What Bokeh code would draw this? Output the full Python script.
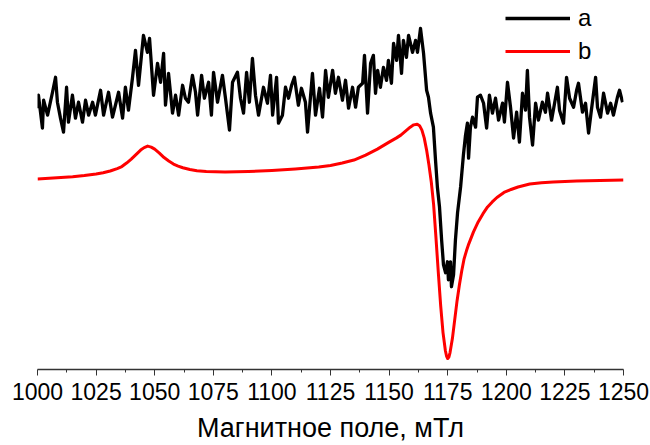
from bokeh.plotting import figure
from bokeh.models import Range1d, Legend, LegendItem, FixedTicker
from bokeh.embed import file_html
from bokeh.resources import INLINE

# Magnetic field (mT) and intensity (arb. units) for experimental spectrum "a"
field_a = [1000.0, 1000.4, 1002.1, 1002.6, 1004.3, 1006.4, 1007.7, 1008.5, 1009.8, 1011.1,
           1012.4, 1013.2, 1014.9, 1016.2, 1017.5, 1019.2, 1020.5, 1021.8, 1023.5, 1024.7,
           1026.9, 1028.2, 1030.3, 1032.0, 1034.6, 1036.3, 1037.5, 1038.8, 1040.5, 1041.8,
           1043.1, 1045.2, 1046.9, 1047.8, 1049.5, 1051.2, 1052.5, 1053.8, 1054.6, 1055.9,
           1057.6, 1058.9, 1060.2, 1061.9, 1063.1, 1064.4, 1066.1, 1067.4, 1068.3, 1070.0,
           1071.2, 1073.0, 1074.2, 1075.1, 1076.8, 1078.9, 1080.2, 1081.9, 1083.2, 1085.3,
           1086.6, 1087.9, 1089.2, 1090.4, 1091.7, 1093.0, 1094.3, 1096.4, 1098.1, 1099.4,
           1100.3, 1102.0, 1102.8, 1104.5, 1105.8, 1107.1, 1108.4, 1109.6, 1111.3, 1112.6,
           1114.3, 1115.2, 1117.3, 1118.6, 1120.3, 1121.6, 1122.9, 1124.1, 1125.9, 1127.1,
           1128.4, 1130.1, 1131.4, 1132.7, 1134.4, 1135.7, 1136.9, 1138.7, 1139.5, 1140.8,
           1142.1, 1143.3, 1144.2, 1145.1, 1146.3, 1147.6, 1148.9, 1149.7, 1151.0, 1151.9,
           1153.2, 1154.0, 1155.3, 1156.1, 1157.4, 1158.3, 1160.0, 1161.3, 1162.1, 1163.4,
           1164.7, 1166.0, 1166.8, 1167.7, 1168.9, 1169.8, 1170.6, 1171.5, 1172.4, 1173.2,
           1174.1, 1174.9, 1175.3, 1176.2, 1176.6, 1177.5, 1178.3, 1179.2, 1180.5, 1181.7,
           1182.6, 1183.4, 1183.9, 1184.7, 1185.6, 1186.9, 1187.7, 1189.0, 1190.3, 1191.6,
           1192.8, 1194.1, 1195.4, 1196.7, 1198.4, 1199.2, 1200.5, 1201.8, 1203.1, 1204.4,
           1205.6, 1206.9, 1208.2, 1209.0, 1209.9, 1211.2, 1212.5, 1213.7, 1215.4, 1216.7,
           1217.6, 1219.3, 1220.6, 1221.8, 1222.7, 1224.4, 1225.7, 1227.0, 1228.7, 1230.0,
           1230.8, 1232.5, 1233.8, 1235.1, 1236.3, 1238.1, 1238.9, 1240.2, 1241.5, 1243.2,
           1244.5, 1245.7, 1247.4, 1248.3, 1249.6]
intensity_a = [262, 275, 242, 270, 255, 278, 293, 268, 252, 238,
               283, 248, 275, 252, 268, 248, 270, 255, 268, 255,
               280, 255, 278, 253, 278, 252, 283, 260, 292, 320,
               285, 335, 318, 332, 275, 307, 288, 317, 265, 297,
               257, 275, 255, 285, 272, 268, 295, 278, 255, 295,
               272, 288, 255, 298, 268, 295, 272, 240, 288, 298,
               272, 257, 298, 268, 312, 275, 255, 283, 267, 295,
               255, 293, 247, 255, 283, 272, 285, 293, 265, 282,
               268, 238, 297, 255, 282, 253, 300, 273, 300, 277,
               293, 270, 290, 262, 283, 263, 283, 287, 315, 257,
               307, 315, 277, 300, 283, 303, 290, 310, 287, 327,
               310, 335, 297, 330, 313, 335, 318, 330, 318, 342,
               317, 280, 273, 257, 243, 210, 183, 163, 130, 105,
               97, 108, 90, 108, 83, 95, 130, 157, 183, 215,
               235, 247, 212, 243, 253, 243, 273, 275, 267, 242,
               275, 257, 272, 250, 267, 248, 288, 263, 232, 258,
               228, 277, 260, 300, 253, 225, 267, 250, 268, 258,
               277, 250, 267, 283, 260, 247, 293, 272, 263, 280,
               287, 258, 267, 237, 260, 293, 263, 253, 277, 257,
               267, 255, 273, 280, 268]

# Simulated spectrum "b"
field_b = [1000, 1005, 1010, 1015, 1020, 1025, 1028, 1031, 1034, 1036,
           1038, 1040, 1042, 1044, 1045.5, 1047, 1048.5, 1050, 1052, 1054,
           1056, 1058, 1060, 1062, 1065, 1068, 1072, 1080, 1090, 1100,
           1110, 1120, 1125, 1130, 1135, 1140, 1145, 1150, 1153, 1155,
           1157, 1159, 1160.5, 1162, 1163, 1164, 1165, 1166, 1167, 1168,
           1169, 1170, 1171, 1172, 1173, 1174, 1174.5, 1175, 1175.5, 1176,
           1177, 1178, 1179, 1180, 1181, 1182, 1183, 1184, 1185, 1186,
           1188, 1190, 1192, 1194, 1196, 1199, 1202, 1205, 1210, 1215,
           1220, 1230, 1240, 1250]
intensity_b = [191, 191.7, 192.5, 193.3, 194.5, 196, 197.3, 199, 201.5, 203.5,
               207, 211, 215.5, 220, 222.5, 224, 223, 221, 217, 212.5,
               209, 206, 204, 202.3, 200.5, 199.3, 198.5, 198, 198.5, 199.5,
               201, 203, 204.5, 207, 210, 215, 221, 228, 232, 235,
               239, 243, 245.3, 246, 244.5, 240, 232, 220, 205, 188,
               165, 132, 97, 64, 37, 19, 13.5, 11, 12.5, 17,
               31, 50, 69, 85, 99, 111, 119, 126, 132, 138,
               148, 156, 163, 168, 172.5, 177.5, 180.5, 183, 186, 187.3,
               188, 189, 189.5, 190]

x_ticks = [1000, 1025, 1050, 1075, 1100, 1125, 1150, 1175, 1200, 1225, 1250]
series_labels = ["a", "b"]
x_label = "Магнитное поле, мТл"

FONT = "Liberation Sans"

p = figure(width=650, height=445, output_backend="svg", toolbar_location=None,
           x_range=Range1d(1000, 1250), y_range=Range1d(0, 370),
           min_border_left=37, min_border_right=27, min_border_top=0, min_border_bottom=75)
p.outline_line_color = None
p.grid.visible = False
p.yaxis.visible = False

la = p.line(field_a, intensity_a, line_color="black", line_width=3.3, line_join="round")
lb = p.line(field_b, intensity_b, line_color="#ff0000", line_width=3, line_join="round")

ax = p.xaxis[0]
ax.ticker = FixedTicker(ticks=x_ticks, minor_ticks=[1012.5 + 25 * i for i in range(10)])
ax.axis_label = x_label
ax.axis_label_text_font = FONT
ax.axis_label_text_font_size = "27px"
ax.axis_label_text_font_style = "normal"
ax.axis_label_text_color = "black"
ax.axis_label_standoff = 10
ax.major_label_text_font = FONT
ax.major_label_text_font_size = "23px"
ax.major_label_text_color = "black"
ax.major_label_standoff = 7
ax.axis_line_color = "#333333"
ax.axis_line_width = 1.5
ax.major_tick_line_color = "#333333"
ax.minor_tick_line_color = "#333333"
ax.major_tick_in = 0
ax.major_tick_out = 6
ax.minor_tick_in = 0
ax.minor_tick_out = 3

legend = Legend(items=[LegendItem(label=series_labels[0], renderers=[la]),
                       LegendItem(label=series_labels[1], renderers=[lb])],
                location=(468, 303), glyph_width=65, glyph_height=30,
                label_height=30, label_standoff=8, spacing=3, padding=5, margin=0,
                label_text_font=FONT, label_text_font_size="24px",
                label_text_color="black",
                border_line_color=None, background_fill_alpha=0)
p.add_layout(legend)

open("out.html", "w").write(file_html(p, INLINE))
